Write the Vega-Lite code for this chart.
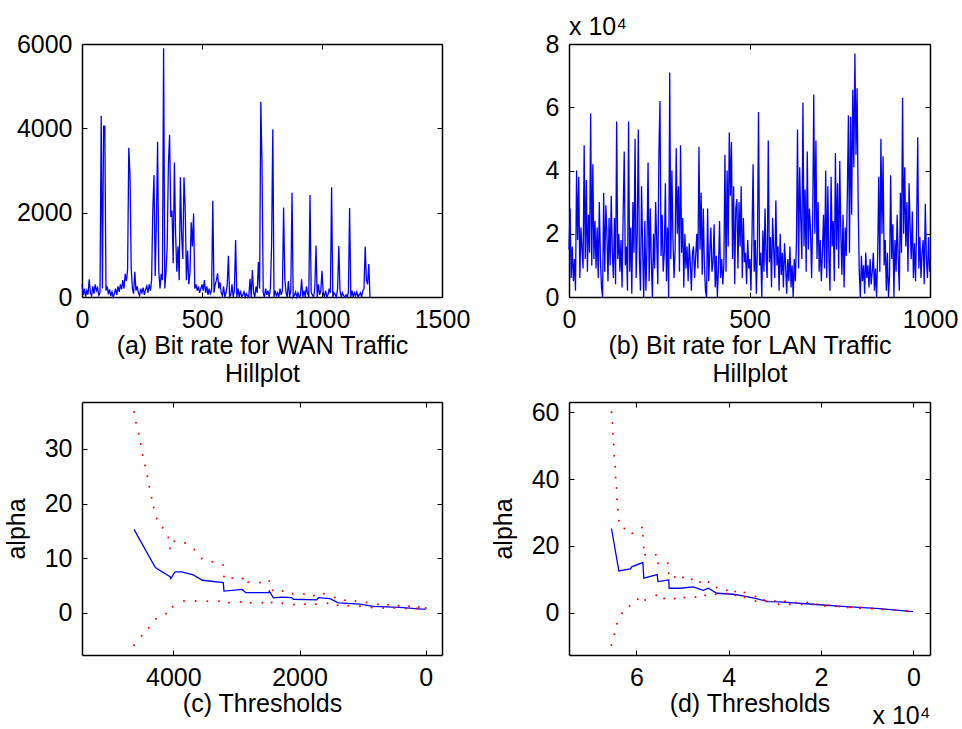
{
  "$schema": "https://vega.github.io/schema/vega-lite/v6.json",
  "background": "white",
  "padding": {"left": 4, "top": 15, "right": 0, "bottom": 0},
  "columns": 2,
  "spacing": {"row": 105, "column": 127},
  "bounds": "flush",
  "config": {
    "font": "Liberation Sans",
    "view": {"stroke": null},
    "axis": {"labelFontSize": 25, "titleFontSize": 25, "titleFontWeight": "normal", "labelColor": "#000", "titleColor": "#000", "domainColor": "#000", "domainWidth": 1.5, "tickColor": "#000", "tickWidth": 1, "tickSize": -5, "grid": false, "labelFlush": false, "labelOverlap": false, "titlePadding": 1, "titleLineHeight": 28},
    "axisX": {"labelPadding": 15},
    "axisY": {"labelPadding": 15},
    "title": {"fontSize": 25, "fontWeight": "normal", "color": "#000"}
  },
  "datasets": {
    "wan": [
      {"x":0,"y":300},{"x":5,"y":50},{"x":10,"y":200},{"x":15,"y":10},{"x":20,"y":150},{"x":25,"y":60},{"x":30,"y":420},{"x":35,"y":100},{"x":40,"y":30},{"x":45,"y":250},
      {"x":50,"y":80},{"x":55,"y":300},{"x":60,"y":150},{"x":65,"y":220},{"x":70,"y":40},{"x":75,"y":100},{"x":80,"y":4300},{"x":85,"y":200},{"x":90,"y":4050},{"x":95,"y":4050},
      {"x":100,"y":150},{"x":105,"y":250},{"x":110,"y":60},{"x":115,"y":180},{"x":120,"y":20},{"x":125,"y":120},{"x":130,"y":0},{"x":135,"y":80},{"x":140,"y":200},{"x":145,"y":50},
      {"x":150,"y":250},{"x":155,"y":120},{"x":160,"y":300},{"x":165,"y":180},{"x":170,"y":400},{"x":175,"y":200},{"x":180,"y":550},{"x":185,"y":380},{"x":190,"y":650},{"x":195,"y":3540},
      {"x":200,"y":2890},{"x":205,"y":700},{"x":210,"y":200},{"x":215,"y":80},{"x":220,"y":600},{"x":225,"y":150},{"x":230,"y":250},{"x":235,"y":100},{"x":240,"y":30},{"x":245,"y":200},
      {"x":250,"y":100},{"x":255,"y":220},{"x":260,"y":50},{"x":265,"y":180},{"x":270,"y":260},{"x":275,"y":100},{"x":280,"y":300},{"x":285,"y":150},{"x":290,"y":400},{"x":295,"y":2050},
      {"x":300,"y":2890},{"x":305,"y":500},{"x":310,"y":1800},{"x":315,"y":3680},{"x":320,"y":600},{"x":325,"y":200},{"x":330,"y":550},{"x":335,"y":400},{"x":340,"y":5900},{"x":345,"y":200},
      {"x":350,"y":600},{"x":355,"y":1200},{"x":360,"y":3150},{"x":365,"y":3850},{"x":370,"y":1900},{"x":375,"y":2050},{"x":380,"y":800},{"x":385,"y":3190},{"x":390,"y":1500},{"x":395,"y":600},
      {"x":400,"y":1200},{"x":405,"y":400},{"x":410,"y":2840},{"x":415,"y":1500},{"x":420,"y":900},{"x":425,"y":2840},{"x":430,"y":2100},{"x":435,"y":400},{"x":440,"y":1100},{"x":445,"y":300},
      {"x":450,"y":600},{"x":455,"y":1770},{"x":460,"y":1200},{"x":465,"y":1980},{"x":470,"y":200},{"x":475,"y":300},{"x":480,"y":150},{"x":485,"y":250},{"x":490,"y":100},{"x":495,"y":200},
      {"x":500,"y":300},{"x":505,"y":150},{"x":510,"y":400},{"x":515,"y":100},{"x":520,"y":250},{"x":525,"y":50},{"x":530,"y":200},{"x":535,"y":80},{"x":540,"y":150},{"x":545,"y":2280},
      {"x":550,"y":100},{"x":555,"y":300},{"x":560,"y":400},{"x":565,"y":560},{"x":570,"y":200},{"x":575,"y":350},{"x":580,"y":100},{"x":585,"y":30},{"x":590,"y":250},{"x":595,"y":0},
      {"x":600,"y":100},{"x":605,"y":280},{"x":610,"y":980},{"x":615,"y":0},{"x":620,"y":50},{"x":625,"y":300},{"x":630,"y":0},{"x":635,"y":150},{"x":640,"y":1350},{"x":645,"y":0},
      {"x":650,"y":200},{"x":655,"y":0},{"x":660,"y":150},{"x":665,"y":0},{"x":670,"y":50},{"x":675,"y":120},{"x":680,"y":0},{"x":685,"y":80},{"x":690,"y":30},{"x":695,"y":0},
      {"x":700,"y":430},{"x":705,"y":0},{"x":710,"y":640},{"x":715,"y":100},{"x":720,"y":0},{"x":725,"y":250},{"x":730,"y":100},{"x":735,"y":830},{"x":740,"y":200},{"x":745,"y":4630},
      {"x":750,"y":3180},{"x":755,"y":100},{"x":760,"y":0},{"x":765,"y":200},{"x":770,"y":50},{"x":775,"y":150},{"x":780,"y":0},{"x":785,"y":200},{"x":790,"y":1250},{"x":795,"y":3980},
      {"x":800,"y":0},{"x":805,"y":150},{"x":810,"y":30},{"x":815,"y":100},{"x":820,"y":0},{"x":825,"y":200},{"x":830,"y":50},{"x":835,"y":150},{"x":840,"y":2120},{"x":845,"y":440},
      {"x":850,"y":100},{"x":855,"y":0},{"x":860,"y":380},{"x":865,"y":0},{"x":870,"y":150},{"x":875,"y":2470},{"x":880,"y":0},{"x":885,"y":50},{"x":890,"y":120},{"x":895,"y":0},
      {"x":900,"y":100},{"x":905,"y":0},{"x":910,"y":30},{"x":915,"y":420},{"x":920,"y":0},{"x":925,"y":150},{"x":930,"y":0},{"x":935,"y":250},{"x":940,"y":80},{"x":945,"y":0},
      {"x":950,"y":2420},{"x":955,"y":100},{"x":960,"y":50},{"x":965,"y":0},{"x":970,"y":200},{"x":975,"y":1220},{"x":980,"y":0},{"x":985,"y":300},{"x":990,"y":50},{"x":995,"y":150},
      {"x":1000,"y":620},{"x":1005,"y":100},{"x":1010,"y":0},{"x":1015,"y":150},{"x":1020,"y":0},{"x":1025,"y":50},{"x":1030,"y":200},{"x":1035,"y":100},{"x":1040,"y":2600},{"x":1045,"y":0},
      {"x":1050,"y":100},{"x":1055,"y":50},{"x":1060,"y":0},{"x":1065,"y":200},{"x":1070,"y":1210},{"x":1075,"y":150},{"x":1080,"y":0},{"x":1085,"y":100},{"x":1090,"y":30},{"x":1095,"y":0},
      {"x":1100,"y":50},{"x":1105,"y":0},{"x":1110,"y":100},{"x":1115,"y":2110},{"x":1120,"y":0},{"x":1125,"y":150},{"x":1130,"y":0},{"x":1135,"y":100},{"x":1140,"y":30},{"x":1145,"y":120},
      {"x":1150,"y":0},{"x":1155,"y":50},{"x":1160,"y":100},{"x":1165,"y":0},{"x":1170,"y":150},{"x":1175,"y":200},{"x":1180,"y":1200},{"x":1185,"y":400},{"x":1190,"y":300},{"x":1195,"y":780},
      {"x":1200,"y":0}
    ],
    "lan": [
      {"x":0,"y":15000},{"x":3,"y":28000},{"x":6,"y":6000},{"x":9,"y":16000},{"x":12,"y":5000},{"x":15,"y":12000},{"x":18,"y":2000},{"x":21,"y":40000},{"x":24,"y":18000},{"x":27,"y":38000},
      {"x":30,"y":6000},{"x":33,"y":22000},{"x":36,"y":15000},{"x":39,"y":9000},{"x":42,"y":48000},{"x":45,"y":12000},{"x":48,"y":37000},{"x":51,"y":8000},{"x":54,"y":26000},{"x":57,"y":14000},
      {"x":60,"y":58000},{"x":63,"y":10000},{"x":66,"y":42000},{"x":69,"y":12000},{"x":72,"y":24000},{"x":75,"y":9000},{"x":78,"y":22000},{"x":81,"y":6000},{"x":84,"y":30000},{"x":87,"y":12000},
      {"x":90,"y":3000},{"x":93,"y":0},{"x":96,"y":33000},{"x":99,"y":8000},{"x":102,"y":29000},{"x":105,"y":20000},{"x":108,"y":5000},{"x":111,"y":25000},{"x":114,"y":10000},{"x":117,"y":32000},
      {"x":120,"y":14000},{"x":123,"y":6000},{"x":126,"y":25000},{"x":129,"y":4000},{"x":132,"y":55500},{"x":135,"y":12000},{"x":138,"y":20000},{"x":141,"y":8000},{"x":144,"y":18000},{"x":147,"y":3000},
      {"x":150,"y":26000},{"x":153,"y":46000},{"x":156,"y":10000},{"x":159,"y":16000},{"x":162,"y":2000},{"x":165,"y":55500},{"x":168,"y":8000},{"x":171,"y":22000},{"x":174,"y":1000},{"x":177,"y":30000},
      {"x":180,"y":14000},{"x":183,"y":50000},{"x":186,"y":6000},{"x":189,"y":20000},{"x":192,"y":53000},{"x":195,"y":12000},{"x":198,"y":2000},{"x":201,"y":35000},{"x":204,"y":15000},{"x":207,"y":0},
      {"x":210,"y":24000},{"x":213,"y":2000},{"x":216,"y":16000},{"x":219,"y":42500},{"x":222,"y":5000},{"x":225,"y":28000},{"x":228,"y":11000},{"x":231,"y":0},{"x":234,"y":20000},{"x":237,"y":9000},
      {"x":240,"y":30000},{"x":243,"y":18000},{"x":246,"y":4000},{"x":249,"y":45000},{"x":252,"y":62000},{"x":255,"y":13000},{"x":258,"y":26000},{"x":261,"y":8000},{"x":264,"y":14000},{"x":267,"y":36000},
      {"x":270,"y":5000},{"x":273,"y":22000},{"x":276,"y":0},{"x":279,"y":71000},{"x":282,"y":12000},{"x":285,"y":40000},{"x":288,"y":18000},{"x":291,"y":6000},{"x":294,"y":15000},{"x":297,"y":47000},
      {"x":300,"y":20000},{"x":303,"y":35000},{"x":306,"y":8000},{"x":309,"y":48000},{"x":312,"y":14000},{"x":315,"y":25000},{"x":318,"y":3000},{"x":321,"y":20000},{"x":324,"y":9000},{"x":327,"y":16000},
      {"x":330,"y":5000},{"x":333,"y":17000},{"x":336,"y":11000},{"x":339,"y":2000},{"x":342,"y":14000},{"x":345,"y":16000},{"x":348,"y":6000},{"x":351,"y":13000},{"x":354,"y":20000},{"x":357,"y":9000},
      {"x":360,"y":47500},{"x":363,"y":15000},{"x":366,"y":33000},{"x":369,"y":7000},{"x":372,"y":28000},{"x":375,"y":10000},{"x":378,"y":2000},{"x":381,"y":0},{"x":384,"y":28000},{"x":387,"y":5000},
      {"x":390,"y":14000},{"x":393,"y":22000},{"x":396,"y":8000},{"x":399,"y":11000},{"x":402,"y":23000},{"x":405,"y":3000},{"x":408,"y":13000},{"x":411,"y":0},{"x":414,"y":9000},{"x":417,"y":24000},
      {"x":420,"y":6000},{"x":423,"y":12000},{"x":426,"y":4000},{"x":429,"y":10000},{"x":432,"y":45000},{"x":435,"y":8000},{"x":438,"y":40000},{"x":441,"y":16000},{"x":444,"y":52000},{"x":447,"y":32000},
      {"x":450,"y":49000},{"x":453,"y":12000},{"x":456,"y":35000},{"x":459,"y":4000},{"x":462,"y":28000},{"x":465,"y":31000},{"x":468,"y":9000},{"x":471,"y":30000},{"x":474,"y":16000},{"x":477,"y":35000},
      {"x":480,"y":6000},{"x":483,"y":25000},{"x":486,"y":11000},{"x":489,"y":14000},{"x":492,"y":4000},{"x":495,"y":18000},{"x":498,"y":9000},{"x":501,"y":12000},{"x":504,"y":2000},{"x":507,"y":20000},
      {"x":510,"y":42000},{"x":513,"y":8000},{"x":516,"y":18000},{"x":519,"y":1000},{"x":522,"y":16000},{"x":525,"y":58500},{"x":528,"y":10000},{"x":531,"y":14000},{"x":534,"y":0},{"x":537,"y":21000},
      {"x":540,"y":8000},{"x":543,"y":28000},{"x":546,"y":12000},{"x":549,"y":6000},{"x":552,"y":49500},{"x":555,"y":11000},{"x":558,"y":19000},{"x":561,"y":3000},{"x":564,"y":25000},{"x":567,"y":15000},
      {"x":570,"y":6000},{"x":573,"y":30500},{"x":576,"y":10000},{"x":579,"y":16000},{"x":582,"y":2000},{"x":585,"y":20000},{"x":588,"y":7000},{"x":591,"y":14000},{"x":594,"y":3000},{"x":597,"y":17000},
      {"x":600,"y":10000},{"x":603,"y":1000},{"x":606,"y":12000},{"x":609,"y":5000},{"x":612,"y":16000},{"x":615,"y":3000},{"x":618,"y":10000},{"x":621,"y":0},{"x":624,"y":12000},{"x":627,"y":5000},
      {"x":630,"y":17000},{"x":633,"y":53000},{"x":636,"y":9000},{"x":639,"y":41000},{"x":642,"y":25000},{"x":645,"y":12000},{"x":648,"y":61500},{"x":651,"y":16000},{"x":654,"y":34000},{"x":657,"y":8000},
      {"x":660,"y":46000},{"x":663,"y":15000},{"x":666,"y":28000},{"x":669,"y":21000},{"x":672,"y":6000},{"x":675,"y":24000},{"x":678,"y":64000},{"x":681,"y":20000},{"x":684,"y":49500},{"x":687,"y":12000},
      {"x":690,"y":30000},{"x":693,"y":8000},{"x":696,"y":18000},{"x":699,"y":5000},{"x":702,"y":14000},{"x":705,"y":26000},{"x":708,"y":9000},{"x":711,"y":40000},{"x":714,"y":6000},{"x":717,"y":35000},
      {"x":720,"y":12000},{"x":723,"y":2000},{"x":726,"y":38000},{"x":729,"y":16000},{"x":732,"y":24000},{"x":735,"y":5000},{"x":738,"y":45500},{"x":741,"y":15000},{"x":744,"y":36000},{"x":747,"y":9000},
      {"x":750,"y":43000},{"x":753,"y":20000},{"x":756,"y":7000},{"x":759,"y":26000},{"x":762,"y":3000},{"x":765,"y":22000},{"x":768,"y":13000},{"x":771,"y":32000},{"x":774,"y":57500},{"x":777,"y":14000},
      {"x":780,"y":57000},{"x":783,"y":26000},{"x":786,"y":65500},{"x":789,"y":41000},{"x":792,"y":77000},{"x":795,"y":45000},{"x":798,"y":66000},{"x":801,"y":30000},{"x":804,"y":8000},{"x":807,"y":0},
      {"x":810,"y":13000},{"x":813,"y":5000},{"x":816,"y":10000},{"x":819,"y":1000},{"x":822,"y":14000},{"x":825,"y":6000},{"x":828,"y":10000},{"x":831,"y":3000},{"x":834,"y":12000},{"x":837,"y":4000},
      {"x":840,"y":8000},{"x":843,"y":14000},{"x":846,"y":2000},{"x":849,"y":9000},{"x":852,"y":0},{"x":855,"y":13000},{"x":858,"y":38000},{"x":861,"y":8000},{"x":864,"y":50000},{"x":867,"y":20000},
      {"x":870,"y":44500},{"x":873,"y":10000},{"x":876,"y":18000},{"x":879,"y":2000},{"x":882,"y":14000},{"x":885,"y":0},{"x":888,"y":7000},{"x":891,"y":38500},{"x":894,"y":12000},{"x":897,"y":23000},
      {"x":900,"y":0},{"x":903,"y":18000},{"x":906,"y":8000},{"x":909,"y":26000},{"x":912,"y":12000},{"x":915,"y":2000},{"x":918,"y":33000},{"x":921,"y":14000},{"x":924,"y":63000},{"x":927,"y":20000},
      {"x":930,"y":41000},{"x":933,"y":16000},{"x":936,"y":30000},{"x":939,"y":8000},{"x":942,"y":36000},{"x":945,"y":22000},{"x":948,"y":12000},{"x":951,"y":27000},{"x":954,"y":6000},{"x":957,"y":17000},
      {"x":960,"y":5000},{"x":963,"y":23000},{"x":966,"y":50500},{"x":969,"y":9000},{"x":972,"y":19000},{"x":975,"y":6000},{"x":978,"y":14000},{"x":981,"y":18000},{"x":984,"y":4000},{"x":987,"y":29500},
      {"x":990,"y":12000},{"x":993,"y":6000},{"x":996,"y":19000},{"x":999,"y":8000}
    ],
    "hc": [
      {"x":4623,"y":15.3,"s":"a"},{"x":4285,"y":8.3,"s":"a"},{"x":4052,"y":6.65,"s":"a"},{"x":4040,"y":6.3,"s":"a"},{"x":3973,"y":7.5,"s":"a"},{"x":3868,"y":7.5,"s":"a"},{"x":3683,"y":6.95,"s":"a"},{"x":3540,"y":5.98,"s":"a"},{"x":3208,"y":5.55,"s":"a"},{"x":3197,"y":4.0,"s":"a"},{"x":2906,"y":4.3,"s":"a"},{"x":2853,"y":3.7,"s":"a"},{"x":2485,"y":3.7,"s":"a"},{"x":2478,"y":4.0,"s":"a"},{"x":2415,"y":2.75,"s":"a"},{"x":2283,"y":2.9,"s":"a"},{"x":2125,"y":2.8,"s":"a"},{"x":2098,"y":2.5,"s":"a"},{"x":1727,"y":2.4,"s":"a"},{"x":1700,"y":2.8,"s":"a"},{"x":1517,"y":2.6,"s":"a"},{"x":1385,"y":1.85,"s":"a"},{"x":1041,"y":1.6,"s":"a"},{"x":830,"y":1.2,"s":"a"},{"x":407,"y":1.0,"s":"a"},{"x":63,"y":0.7,"s":"a"},{"x":0,"y":0.7,"s":"a"},
      {"x":4623,"y":36.75,"s":"u"},{"x":4591,"y":34.8,"s":"u"},{"x":4549,"y":32.8,"s":"u"},{"x":4517,"y":30.9,"s":"u"},{"x":4485,"y":28.9,"s":"u"},{"x":4448,"y":27.0,"s":"u"},{"x":4411,"y":25.0,"s":"u"},{"x":4380,"y":23.1,"s":"u"},{"x":4343,"y":21.1,"s":"u"},{"x":4311,"y":19.3,"s":"u"},{"x":4263,"y":17.3,"s":"u"},{"x":4168,"y":15.6,"s":"u"},{"x":4079,"y":13.8,"s":"u"},{"x":4052,"y":11.85,"s":"u"},{"x":3984,"y":13.1,"s":"u"},{"x":3815,"y":12.8,"s":"u"},{"x":3667,"y":11.6,"s":"u"},{"x":3550,"y":9.95,"s":"u"},{"x":3382,"y":9.35,"s":"u"},{"x":3212,"y":8.75,"s":"u"},{"x":3197,"y":6.65,"s":"u"},{"x":3066,"y":6.4,"s":"u"},{"x":2901,"y":6.3,"s":"u"},{"x":2811,"y":5.6,"s":"u"},{"x":2626,"y":5.55,"s":"u"},{"x":2479,"y":5.85,"s":"u"},{"x":2426,"y":4.15,"s":"u"},{"x":2268,"y":4.0,"s":"u"},{"x":2110,"y":3.5,"s":"u"},{"x":1930,"y":3.45,"s":"u"},{"x":1772,"y":3.2,"s":"u"},{"x":1614,"y":3.5,"s":"u"},{"x":1440,"y":2.8,"s":"u"},{"x":1281,"y":2.3,"s":"u"},{"x":1113,"y":2.2,"s":"u"},{"x":938,"y":1.9,"s":"u"},{"x":756,"y":1.6,"s":"u"},{"x":598,"y":1.5,"s":"u"},{"x":428,"y":1.3,"s":"u"},{"x":265,"y":1.2,"s":"u"},{"x":112,"y":1.1,"s":"u"},{"x":0,"y":0.9,"s":"u"},
      {"x":4623,"y":-5.9,"s":"l"},{"x":4501,"y":-4.2,"s":"l"},{"x":4390,"y":-2.7,"s":"l"},{"x":4274,"y":-1.05,"s":"l"},{"x":4116,"y":-0.15,"s":"l"},{"x":4011,"y":1.15,"s":"l"},{"x":3831,"y":2.2,"s":"l"},{"x":3646,"y":2.2,"s":"l"},{"x":3461,"y":2.15,"s":"l"},{"x":3277,"y":2.15,"s":"l"},{"x":3118,"y":1.85,"s":"l"},{"x":2932,"y":2.0,"s":"l"},{"x":2774,"y":1.85,"s":"l"},{"x":2589,"y":1.85,"s":"l"},{"x":2442,"y":1.9,"s":"l"},{"x":2273,"y":1.75,"s":"l"},{"x":2088,"y":1.55,"s":"l"},{"x":1914,"y":1.6,"s":"l"},{"x":1740,"y":1.6,"s":"l"},{"x":1556,"y":1.75,"s":"l"},{"x":1397,"y":1.4,"s":"l"},{"x":1228,"y":1.3,"s":"l"},{"x":1043,"y":1.2,"s":"l"},{"x":858,"y":1.0,"s":"l"},{"x":673,"y":0.9,"s":"l"},{"x":498,"y":0.9,"s":"l"},{"x":313,"y":0.8,"s":"l"},{"x":143,"y":0.8,"s":"l"}
    ],
    "hd": [
      {"x":65400,"y":25.2,"s":"a"},{"x":63800,"y":12.5,"s":"a"},{"x":61300,"y":13.1,"s":"a"},{"x":61000,"y":13.7,"s":"a"},{"x":58600,"y":15.0,"s":"a"},{"x":58400,"y":10.3,"s":"a"},{"x":55500,"y":11.4,"s":"a"},{"x":55300,"y":9.3,"s":"a"},{"x":53000,"y":9.8,"s":"a"},{"x":52900,"y":7.3,"s":"a"},{"x":50500,"y":7.3,"s":"a"},{"x":47700,"y":7.7,"s":"a"},{"x":45500,"y":6.7,"s":"a"},{"x":44400,"y":7.3,"s":"a"},{"x":42600,"y":5.8,"s":"a"},{"x":39000,"y":5.5,"s":"a"},{"x":36900,"y":5.0,"s":"a"},{"x":34000,"y":4.2,"s":"a"},{"x":31500,"y":3.3,"s":"a"},{"x":29000,"y":3.2,"s":"a"},{"x":21800,"y":2.5,"s":"a"},{"x":14600,"y":1.8,"s":"a"},{"x":7300,"y":1.2,"s":"a"},{"x":100,"y":0.3,"s":"a"},
      {"x":65400,"y":60.0,"s":"u"},{"x":65200,"y":56.8,"s":"u"},{"x":65100,"y":53.6,"s":"u"},{"x":64900,"y":50.4,"s":"u"},{"x":64800,"y":47.0,"s":"u"},{"x":64600,"y":43.7,"s":"u"},{"x":64500,"y":40.5,"s":"u"},{"x":64300,"y":37.3,"s":"u"},{"x":64200,"y":34.0,"s":"u"},{"x":64000,"y":30.8,"s":"u"},{"x":63800,"y":27.5,"s":"u"},{"x":62600,"y":25.2,"s":"u"},{"x":60900,"y":23.8,"s":"u"},{"x":58800,"y":25.5,"s":"u"},{"x":58600,"y":23.0,"s":"u"},{"x":58400,"y":19.5,"s":"u"},{"x":58100,"y":17.3,"s":"u"},{"x":55800,"y":17.3,"s":"u"},{"x":55300,"y":14.8,"s":"u"},{"x":53200,"y":14.8,"s":"u"},{"x":53000,"y":11.8,"s":"u"},{"x":51700,"y":10.7,"s":"u"},{"x":49900,"y":10.5,"s":"u"},{"x":48000,"y":10.0,"s":"u"},{"x":46200,"y":9.2,"s":"u"},{"x":44400,"y":9.2,"s":"u"},{"x":42600,"y":7.5,"s":"u"},{"x":40400,"y":6.7,"s":"u"},{"x":38600,"y":6.3,"s":"u"},{"x":36600,"y":6.0,"s":"u"},{"x":34200,"y":4.8,"s":"u"},{"x":32300,"y":3.8,"s":"u"},{"x":30000,"y":3.5,"s":"u"},{"x":27800,"y":3.4,"s":"u"},{"x":25500,"y":3.0,"s":"u"},{"x":23000,"y":3.0,"s":"u"},{"x":20800,"y":2.5,"s":"u"},{"x":18300,"y":2.2,"s":"u"},{"x":16100,"y":1.8,"s":"u"},{"x":13600,"y":1.6,"s":"u"},{"x":11400,"y":1.5,"s":"u"},{"x":8900,"y":1.2,"s":"u"},{"x":6500,"y":1.0,"s":"u"},{"x":4000,"y":0.8,"s":"u"},{"x":1300,"y":0.5,"s":"u"},
      {"x":65400,"y":-9.7,"s":"l"},{"x":64800,"y":-6.5,"s":"l"},{"x":64200,"y":-3.3,"s":"l"},{"x":63100,"y":-0.2,"s":"l"},{"x":61500,"y":2.0,"s":"l"},{"x":59700,"y":4.0,"s":"l"},{"x":58100,"y":3.8,"s":"l"},{"x":55700,"y":5.2,"s":"l"},{"x":54000,"y":4.2,"s":"l"},{"x":51700,"y":4.2,"s":"l"},{"x":49600,"y":4.5,"s":"l"},{"x":47200,"y":4.7,"s":"l"},{"x":45100,"y":5.2,"s":"l"},{"x":42800,"y":5.5,"s":"l"},{"x":40500,"y":5.7,"s":"l"},{"x":38600,"y":5.2,"s":"l"},{"x":36600,"y":4.7,"s":"l"},{"x":34200,"y":3.5,"s":"l"},{"x":31800,"y":3.3,"s":"l"},{"x":29200,"y":2.5,"s":"l"},{"x":26800,"y":2.5,"s":"l"},{"x":24200,"y":2.5,"s":"l"},{"x":21700,"y":2.4,"s":"l"},{"x":19200,"y":2.0,"s":"l"},{"x":16800,"y":1.9,"s":"l"},{"x":14200,"y":1.5,"s":"l"},{"x":11600,"y":1.3,"s":"l"},{"x":9100,"y":1.2,"s":"l"},{"x":6800,"y":1.0,"s":"l"},{"x":4200,"y":0.8,"s":"l"},{"x":1600,"y":0.5,"s":"l"}
    ]
  },
  "concat": [
    {
      "width": 360, "height": 253,
      "data": {"name": "wan"},
      "layer": [
        {
          "mark": {"type": "line", "color": "#0000ff", "strokeWidth": 1.3},
          "encoding": {
            "x": {"field": "x", "type": "quantitative", "scale": {"domain": [0, 1500], "nice": false, "zero": false}, "axis": {"orient": "bottom", "values": [0, 500, 1000, 1500], "format": "d", "title": ["(a) Bit rate for WAN Traffic", "Hillplot"]}},
            "y": {"field": "y", "type": "quantitative", "scale": {"domain": [0, 6000], "nice": false, "zero": false}, "axis": {"orient": "left", "values": [0, 2000, 4000, 6000], "format": "d", "title": null}}
          }
        },
        {
          "transform": [{"filter": "datum.x == 0"}],
          "mark": {"type": "line", "strokeOpacity": 0},
          "encoding": {
            "x": {"field": "x", "type": "quantitative", "axis": {"orient": "top", "values": [0, 500, 1000, 1500], "labels": false, "title": null}},
            "y": {"field": "y", "type": "quantitative", "axis": {"orient": "right", "values": [0, 2000, 4000, 6000], "labels": false, "title": null}}
          }
        }
      ],
      "resolve": {"axis": {"x": "independent", "y": "independent"}}
    },
    {
      "width": 361, "height": 253,
      "title": {"text": "x 10⁴", "anchor": "start", "frame": "group", "orient": "top", "offset": -8},
      "data": {"name": "lan"},
      "layer": [
        {
          "mark": {"type": "line", "color": "#0000ff", "strokeWidth": 1.3},
          "encoding": {
            "x": {"field": "x", "type": "quantitative", "scale": {"domain": [0, 1000], "nice": false, "zero": false}, "axis": {"orient": "bottom", "values": [0, 500, 1000], "format": "d", "title": ["(b) Bit rate for LAN Traffic", "Hillplot"]}},
            "y": {"field": "y", "type": "quantitative", "scale": {"domain": [0, 80000], "nice": false, "zero": false}, "axis": {"orient": "left", "values": [0, 20000, 40000, 60000, 80000], "labelExpr": "datum.value / 10000", "title": null}}
          }
        },
        {
          "transform": [{"filter": "datum.x == 0"}],
          "mark": {"type": "line", "strokeOpacity": 0},
          "encoding": {
            "x": {"field": "x", "type": "quantitative", "axis": {"orient": "top", "values": [0, 500, 1000], "labels": false, "title": null}},
            "y": {"field": "y", "type": "quantitative", "axis": {"orient": "right", "values": [0, 20000, 40000, 60000, 80000], "labels": false, "title": null}}
          }
        }
      ],
      "resolve": {"axis": {"x": "independent", "y": "independent"}}
    },
    {
      "width": 360, "height": 253,
      "data": {"name": "hc"},
      "layer": [
        {
          "transform": [{"filter": "datum.s == 'a'"}],
          "mark": {"type": "line", "color": "#0000ff", "strokeWidth": 1.3},
          "encoding": {
            "x": {"field": "x", "type": "quantitative", "scale": {"domain": [-258, 5447], "reverse": true, "nice": false, "zero": false}, "axis": {"orient": "bottom", "values": [0, 2000, 4000], "format": "d", "title": "(c) Thresholds"}},
            "y": {"field": "y", "type": "quantitative", "scale": {"domain": [-7.7, 38.6], "nice": false, "zero": false}, "axis": {"orient": "left", "values": [0, 10, 20, 30], "format": "d", "title": "alpha", "titlePadding": 15}}
          }
        },
        {
          "transform": [{"filter": "datum.s != 'a'"}],
          "mark": {"type": "point", "filled": true, "color": "#ff0000", "size": 4, "opacity": 1},
          "encoding": {
            "x": {"field": "x", "type": "quantitative", "axis": {"orient": "top", "values": [0, 2000, 4000], "labels": false, "title": null}},
            "y": {"field": "y", "type": "quantitative", "axis": {"orient": "right", "values": [0, 10, 20, 30], "labels": false, "title": null}}
          }
        }
      ],
      "resolve": {"axis": {"x": "independent", "y": "independent"}}
    },
    {
      "width": 361, "height": 253,
      "title": {"text": "x 10⁴", "anchor": "end", "orient": "bottom", "offset": -12},
      "data": {"name": "hd"},
      "layer": [
        {
          "transform": [{"filter": "datum.s == 'a'"}],
          "mark": {"type": "line", "color": "#0000ff", "strokeWidth": 1.3},
          "encoding": {
            "x": {"field": "x", "type": "quantitative", "scale": {"domain": [-3600, 74600], "reverse": true, "nice": false, "zero": false}, "axis": {"orient": "bottom", "values": [0, 20000, 40000, 60000], "labelExpr": "datum.value / 10000", "title": "(d) Thresholds"}},
            "y": {"field": "y", "type": "quantitative", "scale": {"domain": [-12.7, 63.1], "nice": false, "zero": false}, "axis": {"orient": "left", "values": [0, 20, 40, 60], "format": "d", "title": "alpha", "titlePadding": 15}}
          }
        },
        {
          "transform": [{"filter": "datum.s != 'a'"}],
          "mark": {"type": "point", "filled": true, "color": "#ff0000", "size": 4, "opacity": 1},
          "encoding": {
            "x": {"field": "x", "type": "quantitative", "axis": {"orient": "top", "values": [0, 20000, 40000, 60000], "labels": false, "title": null}},
            "y": {"field": "y", "type": "quantitative", "axis": {"orient": "right", "values": [0, 20, 40, 60], "labels": false, "title": null}}
          }
        }
      ],
      "resolve": {"axis": {"x": "independent", "y": "independent"}}
    }
  ]
}
